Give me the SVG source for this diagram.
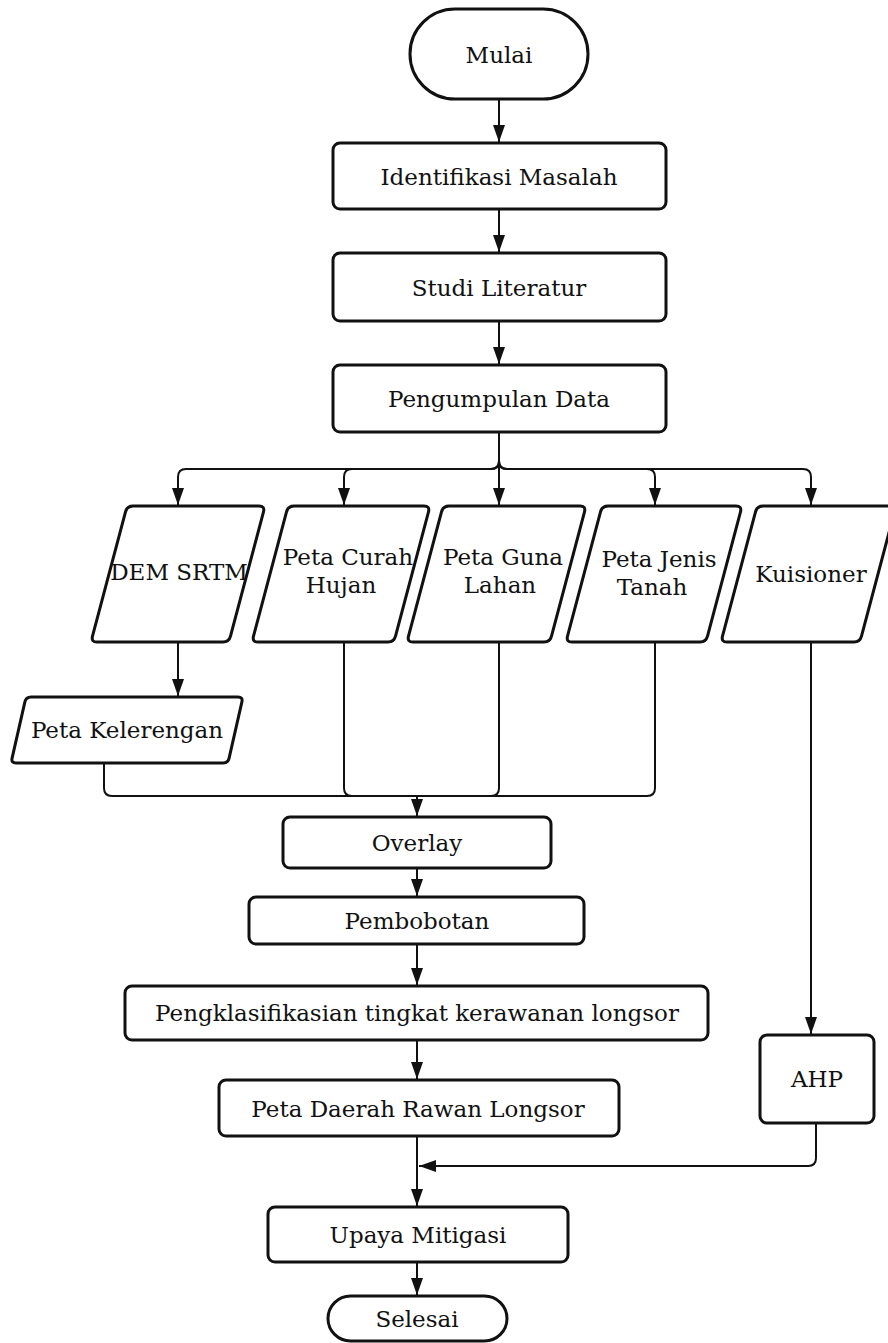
<svg xmlns="http://www.w3.org/2000/svg" width="888" height="1343" viewBox="0 0 888 1343">
<style>
.box{fill:#fff;stroke:#111;stroke-width:3;stroke-linejoin:round}
.ln{fill:none;stroke:#111;stroke-width:2;stroke-linejoin:round}
.t{font-family:"DejaVu Serif","Liberation Serif",serif;font-size:23px;fill:#111;text-anchor:middle}
</style>
<defs>
<marker id="ah" markerUnits="userSpaceOnUse" viewBox="0 0 17 12" markerWidth="17" markerHeight="12" refX="17" refY="6" orient="auto">
<path d="M0,0 L17,6 L0,12 Z" fill="#111"/>
</marker>
</defs>
<rect width="888" height="1343" fill="#fff"/>
<g id="connectors">
<path class="ln" d="M499,99 V142" marker-end="url(#ah)"/>
<path class="ln" d="M499,209 V252" marker-end="url(#ah)"/>
<path class="ln" d="M499,321 V364" marker-end="url(#ah)"/>
<path class="ln" d="M499,432 V461 Q499,469 491,469 H186 Q178,469 178,477 V505" marker-end="url(#ah)"/>
<path class="ln" d="M499,432 V461 Q499,469 491,469 H352 Q344,469 344,477 V505" marker-end="url(#ah)"/>
<path class="ln" d="M499,432 V505" marker-end="url(#ah)"/>
<path class="ln" d="M499,432 V461 Q499,469 507,469 H647 Q655,469 655,477 V505" marker-end="url(#ah)"/>
<path class="ln" d="M499,432 V461 Q499,469 507,469 H803 Q811,469 811,477 V505" marker-end="url(#ah)"/>
<path class="ln" d="M178,642 V696" marker-end="url(#ah)"/>
<path class="ln" d="M104,763 V788 Q104,796 112,796 H417"/>
<path class="ln" d="M344,642 V788 Q344,796 352,796 H417"/>
<path class="ln" d="M499,642 V788 Q499,796 491,796 H417"/>
<path class="ln" d="M655,642 V788 Q655,796 647,796 H417"/>
<path class="ln" d="M417,796 V816" marker-end="url(#ah)"/>
<path class="ln" d="M417,868 V896" marker-end="url(#ah)"/>
<path class="ln" d="M417,944 V985" marker-end="url(#ah)"/>
<path class="ln" d="M417,1040 V1079" marker-end="url(#ah)"/>
<path class="ln" d="M417,1136 V1206" marker-end="url(#ah)"/>
<path class="ln" d="M811,642 V1034" marker-end="url(#ah)"/>
<path class="ln" d="M816,1123 V1158 Q816,1166 808,1166 H419" marker-end="url(#ah)"/>
<path class="ln" d="M417,1262 V1295" marker-end="url(#ah)"/>
</g>
<g id="mulai"><rect class="box" x="410" y="9" width="178" height="90" rx="45"/><text class="t" x="499" y="63">Mulai</text></g>
<g id="identifikasi"><rect class="box" x="333" y="143" width="333" height="66" rx="7"/><text class="t" x="499" y="185">Identifikasi Masalah</text></g>
<g id="studi"><rect class="box" x="333" y="253" width="333" height="68" rx="7"/><text class="t" x="499" y="296">Studi Literatur</text></g>
<g id="pengumpulan"><rect class="box" x="333" y="365" width="333" height="67" rx="7"/><text class="t" x="499" y="407">Pengumpulan Data</text></g>
<g id="dem"><path class="box" d="M133,506 H259 Q265,506 263.5,511.8 L230.5,636.2 Q229,642 223,642 H97 Q91,642 92.5,636.2 L125.5,511.8 Q127,506 133,506 Z"/><text class="t" x="179" y="580">DEM SRTM</text></g>
<g id="curah"><path class="box" d="M294,506 H424 Q430,506 428.5,511.8 L395.5,636.2 Q394,642 388,642 H258 Q252,642 253.5,636.2 L286.5,511.8 Q288,506 294,506 Z"/><text class="t" x="348" y="565">Peta Curah</text><text class="t" x="341" y="593">Hujan</text></g>
<g id="guna"><path class="box" d="M449,506 H580 Q586,506 584.5,511.8 L551.5,636.2 Q550,642 544,642 H413 Q407,642 408.5,636.2 L441.5,511.8 Q443,506 449,506 Z"/><text class="t" x="503" y="565">Peta Guna</text><text class="t" x="500" y="593">Lahan</text></g>
<g id="jenis"><path class="box" d="M608,506 H736 Q742,506 740.5,511.8 L707.5,636.2 Q706,642 700,642 H572 Q566,642 567.5,636.2 L600.5,511.8 Q602,506 608,506 Z"/><text class="t" x="659" y="567">Peta Jenis</text><text class="t" x="652" y="595">Tanah</text></g>
<g id="kuisioner"><path class="box" d="M763,506 H890 Q896,506 894.5,511.8 L861.5,636.2 Q860,642 854,642 H727 Q721,642 722.5,636.2 L755.5,511.8 Q757,506 763,506 Z"/><text class="t" x="811" y="582">Kuisioner</text></g>
<g id="kelerengan"><path class="box" d="M31,697 H238 Q243,697 241.9,701.9 L229.1,758.1 Q228,763 223,763 H16 Q11,763 12.1,758.1 L24.9,701.9 Q26,697 31,697 Z"/><text class="t" x="127" y="738">Peta Kelerengan</text></g>
<g id="overlay"><rect class="box" x="283" y="817" width="268" height="51" rx="7"/><text class="t" x="417" y="851">Overlay</text></g>
<g id="pembobotan"><rect class="box" x="249" y="897" width="335" height="47" rx="7"/><text class="t" x="417" y="929">Pembobotan</text></g>
<g id="pengklasifikasian"><rect class="box" x="125" y="986" width="583" height="54" rx="7"/><text class="t" x="417" y="1021">Pengklasifikasian tingkat kerawanan longsor</text></g>
<g id="petadaerah"><rect class="box" x="219" y="1080" width="400" height="56" rx="7"/><text class="t" x="418" y="1117">Peta Daerah Rawan Longsor</text></g>
<g id="ahp"><rect class="box" x="760" y="1035" width="114" height="88" rx="7"/><text class="t" x="817" y="1087">AHP</text></g>
<g id="upaya"><rect class="box" x="268" y="1207" width="300" height="55" rx="7"/><text class="t" x="418" y="1243">Upaya Mitigasi</text></g>
<g id="selesai"><rect class="box" x="328" y="1296" width="179" height="45" rx="22.5"/><text class="t" x="417" y="1327">Selesai</text></g>
</svg>
